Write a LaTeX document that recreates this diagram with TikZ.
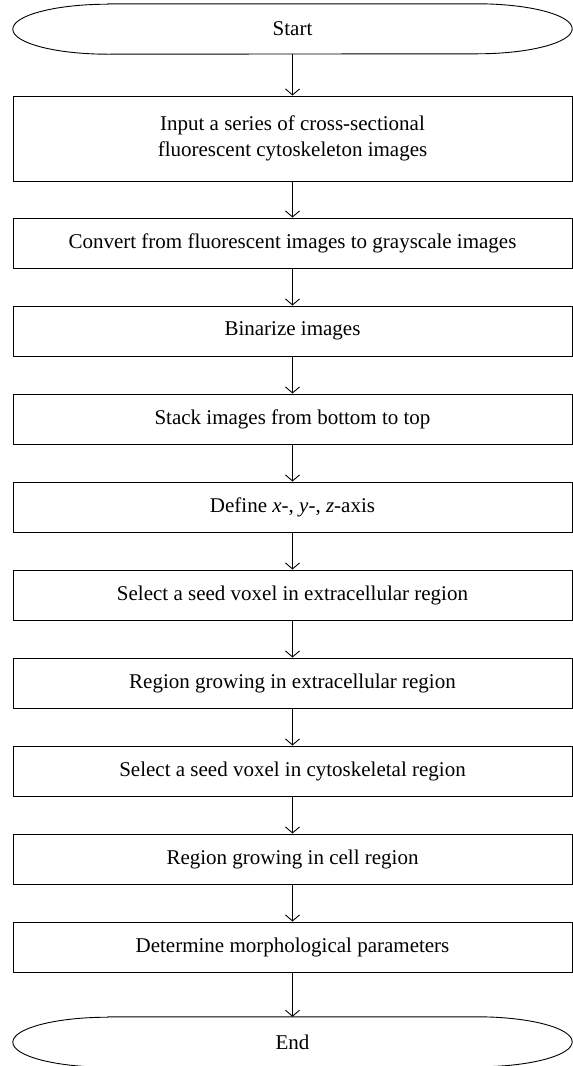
\documentclass[tikz,border=0pt]{standalone}
\usepackage{fontspec}
\setmainfont{Liberation Serif}
\usetikzlibrary{arrows.meta}

\begin{document}
\begin{tikzpicture}[x=1bp, y=-1bp,
    stepbox/.style={draw, line width=0.9bp, minimum width=559bp, minimum height=50bp, inner sep=0pt, align=center},
    termbox/.style={minimum width=559bp, minimum height=50bp, inner sep=0pt},
    arr/.style={line width=0.9bp, -{Straight Barb[length=6bp, width=14bp]}},
    font=\fontsize{21bp}{26bp}\selectfont]

    \useasboundingbox (0,0) rectangle (573,1066);

    \node[termbox] (start) at (292.5,29) {Start};
    \node[stepbox, minimum height=85bp] (input) at (292.5,138.5) {Input a series of cross-sectional\\fluorescent cytoskeleton images};
    \node[stepbox] (gray) at (292.5,243) {Convert from fluorescent images to grayscale images};
    \node[stepbox] (binar) at (292.5,331) {Binarize images};
    \node[stepbox] (stack) at (292.5,419) {Stack images from bottom to top};
    \node[stepbox] (axis) at (292.5,507) {Define \textit{x}-, \textit{y}-, \textit{z}-axis};
    \node[stepbox] (seedex) at (292.5,595) {Select a seed voxel in extracellular region};
    \node[stepbox] (growex) at (292.5,683) {Region growing in extracellular region};
    \node[stepbox] (seedcy) at (292.5,771) {Select a seed voxel in cytoskeletal region};
    \node[stepbox] (growcell) at (292.5,859) {Region growing in cell region};
    \node[stepbox] (param) at (292.5,947) {Determine morphological parameters};
    \node[termbox] (stop) at (292.5,1042) {End};

    \foreach \t in {start, stop}
        \draw[line width=0.9bp] ([xshift=95bp]\t.north west) -- ([xshift=-95bp]\t.north east)
            arc[start angle=90, end angle=-90, x radius=95bp, y radius=25bp]
            -- ([xshift=95bp]\t.south west)
            arc[start angle=270, end angle=90, x radius=95bp, y radius=25bp] -- cycle;

    \foreach \a/\b in {start/input, input/gray, gray/binar, binar/stack, stack/axis, axis/seedex,
        seedex/growex, growex/seedcy, seedcy/growcell, growcell/param, param/stop}
        \draw[arr] (\a) -- (\b);

\end{tikzpicture}
\end{document}
